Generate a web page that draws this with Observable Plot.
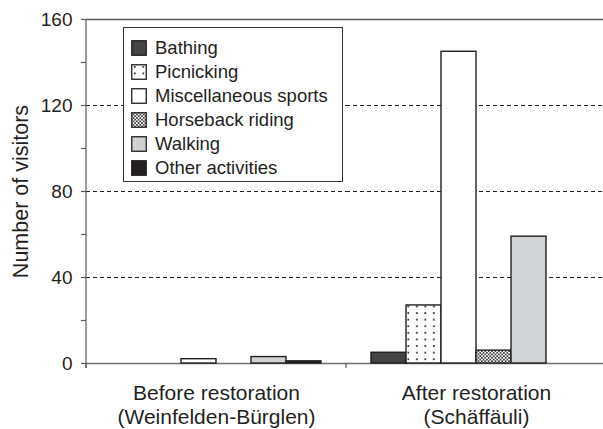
<!DOCTYPE html>
<html><head><meta charset="utf-8">
<script src="https://cdn.jsdelivr.net/npm/d3@7"></script>
<script src="https://cdn.jsdelivr.net/npm/@observablehq/plot@0.6"></script>
<style>
html,body{margin:0;padding:0;background:#fff;overflow:hidden}
body{font-family:"Liberation Sans",Arial,Helvetica,sans-serif;color:#231f20}
#chart{position:relative;width:603px;height:429px}
#legend{position:absolute;left:123px;top:27px;width:218px;height:153px;border:1px solid #333;background:#fff;box-sizing:content-box;padding:0}
.row{display:flex;align-items:center;height:24px;margin-left:7px;font-size:18.5px;line-height:1}
.row svg{margin-right:8px;flex:none}
</style></head><body><div id="chart"></div>
<script>
const groups = ["Before restoration\n(Weinfelden-Bürglen)", "After restoration\n(Schäffäuli)"];
const activities = ["Bathing", "Picnicking", "Miscellaneous sports", "Horseback riding", "Walking", "Other activities"];
const beforeValues = [0, 0, 2, 0, 3, 1];
const afterValues = [5, 27, 145, 6, 59, 0];
const fills = ["#444445", "url(#picnic)", "#ffffff", "url(#horse)", "#d1d2d4", "#231f20"];
const yTicks = [0, 40, 80, 120, 160];
const yMinorTicks = [20, 60, 100, 140];
const gridTicks = [40, 80, 120];

const series = [beforeValues, afterValues];
const data = groups.flatMap((g, gi) => activities.map((a, i) => ({group: g, activity: a, value: series[gi][i]})));

const font = '"Liberation Sans", Arial, Helvetica, sans-serif';
const plot = Plot.plot({
  width: 603, height: 429,
  marginLeft: 86, marginRight: -3, marginTop: 19, marginBottom: 66,
  style: {fontFamily: font, color: "#231f20", background: "transparent", overflow: "visible"},
  fx: {domain: groups, padding: 0, label: null, axis: null},
  x: {domain: activities, paddingInner: 0, paddingOuter: 0.714, axis: null},
  y: {domain: [0, 160], axis: null},
  color: {domain: activities, range: fills},
  marks: [
    Plot.gridY(gridTicks, {stroke: "#231f20", strokeOpacity: 1, strokeWidth: 1, strokeDasharray: "4,3"}),
    Plot.ruleY([0], {stroke: "#6d6e70", strokeWidth: 1.5}),
    Plot.ruleY([160], {stroke: "#58595b", strokeWidth: 1.5}),
    Plot.barY(data.filter(d => d.value > 0), {fx: "group", x: "activity", y: "value", fill: "activity", stroke: "#231f20", strokeWidth: 1.4}),
    Plot.axisY(yTicks, {tickSize: 5, tickPadding: 9, fontSize: 19, label: null, stroke: "#58595b", strokeWidth: 1.2}),
    Plot.axisY(yMinorTicks, {tickSize: 5, text: null, label: null, stroke: "#58595b", strokeWidth: 1.2}),
    Plot.axisY([], {tickSize: 0, label: "Number of visitors", labelAnchor: "center", labelArrow: "none", labelOffset: 74, fontSize: 21.5}),
    Plot.axisFx({anchor: "bottom", tickSize: 0, tickPadding: 19, fontSize: 21, lineHeight: 1.15, label: null})
  ]
});

// patterns
const svg = d3.select(plot);
const defs = svg.insert("defs", ":first-child");
const p1 = defs.append("pattern").attr("id", "picnic").attr("patternUnits", "userSpaceOnUse").attr("width", 8.5).attr("height", 6.6);
p1.append("rect").attr("width", 8.5).attr("height", 6.6).attr("fill", "#fff");
p1.append("rect").attr("x", 3).attr("y", 2).attr("width", 1.7).attr("height", 1.7).attr("fill", "#231f20");
const p2 = defs.append("pattern").attr("id", "horse").attr("patternUnits", "userSpaceOnUse").attr("width", 3.4).attr("height", 3.4);
p2.append("rect").attr("width", 3.4).attr("height", 3.4).attr("fill", "#fff");
p2.append("circle").attr("cx", 0.85).attr("cy", 0.85).attr("r", 0.9).attr("fill", "#231f20");
p2.append("circle").attr("cx", 2.55).attr("cy", 2.55).attr("r", 0.9).attr("fill", "#231f20");

// axis line and group boundary ticks, placed from the plot's own scales
const fxScale = plot.scale("fx");
const yScale = plot.scale("y");
const y0 = yScale.apply(0), yTop = yScale.apply(160);
const xLeft = fxScale.apply(groups[0]);
const axisG = svg.append("g").attr("stroke", "#58595b").attr("stroke-width", 1.2);
axisG.append("line").attr("x1", xLeft).attr("x2", xLeft).attr("y1", yTop).attr("y2", y0 + 5);
axisG.selectAll("line.b").data(groups).join("line").attr("class", "b")
  .attr("x1", g => fxScale.apply(g)).attr("x2", g => fxScale.apply(g))
  .attr("y1", y0).attr("y2", y0 + 5);

const chart = document.getElementById("chart");
chart.appendChild(plot);

// legend
const legend = d3.select(chart).append("div").attr("id", "legend");
legend.append("div").style("height", "8px");
const rows = legend.selectAll(".row").data(activities).join("div").attr("class", "row");
rows.append("svg").attr("width", 16).attr("height", 16)
  .append("rect").attr("x", 0.75).attr("y", 0.75).attr("width", 14.5).attr("height", 14.5)
  .attr("fill", (d, i) => fills[i]).attr("stroke", "#231f20").attr("stroke-width", 1.3);
rows.append("span").text(d => d);
</script>
</body></html>
